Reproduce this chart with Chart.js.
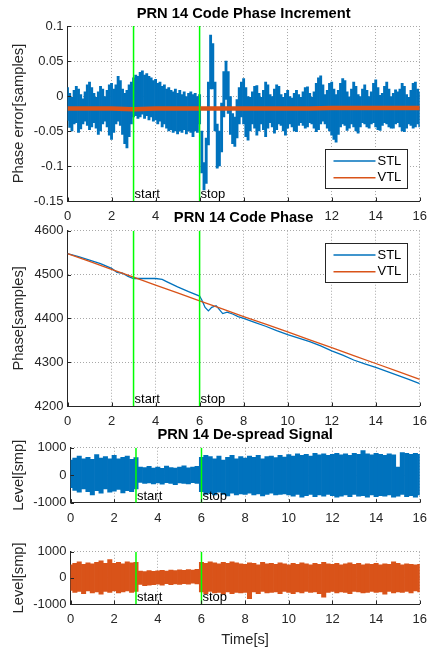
<!DOCTYPE html>
<html lang="en">
<head>
<meta charset="UTF-8">
<title>PRN 14 Code Phase</title>
<script src="https://cdn.jsdelivr.net/npm/chart.js"></script>
<style>
  body { margin: 0; background: #fff; }
  #wrap { position: relative; width: 435px; height: 651px; }
  #wrap canvas { position: absolute; left: 0; }
</style>
</head>
<body>
<div id="wrap">
  <canvas id="incChart" width="435" height="224" style="top:0px"></canvas>
  <canvas id="phaseChart" width="435" height="226" style="top:205px"></canvas>
  <canvas id="stlSigChart" width="435" height="108" style="top:420px"></canvas>
  <canvas id="vtlSigChart" width="435" height="111" style="top:540px"></canvas>
</div>
<script>
// ---- data ----
const markerTimes = [3, 6];
const markerNames = ['start', 'stop'];

// code phase increment, STL min/max per 0.1 s bin (samples)
const incStep = 0.1;
const stlIncHi = [
  0.012, 0.004, -0.002, 0.008, 0.014, 0.010, 0.002, -0.004, 0.006, 0.016,
  0.020, 0.012, 0.004, -0.002, 0.006, 0.014, 0.010, 0.000, 0.008, 0.016,
  0.018, 0.010, 0.016, 0.028, 0.022, 0.010, 0.004, 0.008, 0.016, 0.020,
  0.026, 0.030, 0.028, 0.034, 0.036, 0.030, 0.032, 0.028, 0.026, 0.022,
  0.024, 0.018, 0.020, 0.014, 0.016, 0.010, 0.012, 0.008, 0.006, 0.010,
  0.004, 0.008, 0.002, 0.006, 0.000, 0.004, 0.006, 0.002, 0.004, 0.000,
  0.002, -0.050, -0.095, -0.060, 0.020, 0.087, 0.075, 0.020, -0.040, -0.050,
  -0.010, 0.035, 0.050, 0.035, 0.000, -0.025, -0.030, -0.005, 0.012, 0.020,
  0.025, 0.012, 0.000, -0.002, 0.006, 0.014, 0.015, 0.004, -0.002, 0.008,
  0.020, 0.016, 0.002, 0.000, 0.010, 0.016, 0.014, 0.002, -0.002, 0.004,
  0.008, 0.000, -0.003, 0.004, 0.008, 0.002, -0.002, 0.006, 0.012, 0.013,
  0.004, -0.002, 0.006, 0.018, 0.026, 0.029, 0.016, 0.002, 0.008, 0.018,
  0.020, 0.010, 0.002, 0.008, 0.018, 0.025, 0.022, 0.006, -0.001, 0.010,
  0.020, 0.014, 0.002, 0.000, 0.010, 0.016, 0.008, 0.000, 0.006, 0.018,
  0.023, 0.012, 0.001, 0.004, 0.014, 0.020, 0.010, 0.000, 0.004, 0.009,
  0.006, 0.010, 0.018, 0.014, 0.002, -0.002, 0.008, 0.018, 0.020, 0.010,
  0.006
];
const stlIncLo = [
  -0.035, -0.045, -0.050, -0.040, -0.038, -0.052, -0.047, -0.040, -0.036, -0.042,
  -0.048, -0.044, -0.038, -0.046, -0.055, -0.050, -0.040, -0.036, -0.044, -0.056,
  -0.062, -0.052, -0.040, -0.036, -0.042, -0.055, -0.068, -0.074, -0.058, -0.040,
  -0.030, -0.028, -0.032, -0.030, -0.026, -0.032, -0.028, -0.034, -0.030, -0.036,
  -0.034, -0.040, -0.036, -0.044, -0.040, -0.046, -0.050, -0.048, -0.052, -0.050,
  -0.054, -0.050, -0.052, -0.048, -0.054, -0.050, -0.052, -0.058, -0.050, -0.052,
  -0.040, -0.110, -0.134, -0.125, -0.070, 0.010, 0.010, -0.050, -0.103, -0.100,
  -0.080, -0.030, -0.005, -0.025, -0.055, -0.068, -0.072, -0.060, -0.040, -0.030,
  -0.040, -0.058, -0.063, -0.050, -0.040, -0.046, -0.056, -0.050, -0.040, -0.048,
  -0.058, -0.046, -0.038, -0.044, -0.053, -0.048, -0.040, -0.042, -0.050, -0.056,
  -0.046, -0.040, -0.044, -0.050, -0.051, -0.042, -0.038, -0.042, -0.046, -0.044,
  -0.038, -0.040, -0.046, -0.051, -0.048, -0.040, -0.036, -0.040, -0.046, -0.050,
  -0.056, -0.062, -0.066, -0.055, -0.044, -0.040, -0.042, -0.049, -0.046, -0.040,
  -0.044, -0.050, -0.053, -0.044, -0.038, -0.040, -0.044, -0.046, -0.040, -0.038,
  -0.044, -0.048, -0.049, -0.042, -0.038, -0.040, -0.044, -0.046, -0.046, -0.040,
  -0.038, -0.044, -0.050, -0.051, -0.046, -0.040, -0.042, -0.046, -0.044, -0.040,
  -0.044
];
// VTL increment, one value per second
const seconds = [0, 1, 2, 3, 4, 5, 6, 7, 8, 9, 10, 11, 12, 13, 14, 15, 16];
const vtlInc = [-0.018, -0.018, -0.018, -0.019, -0.018, -0.018, -0.018, -0.018, -0.018,
  -0.018, -0.018, -0.018, -0.017, -0.017, -0.017, -0.017, -0.017];

// code phase (samples)
const phaseTimes = [0, 0.5, 1, 1.5, 2, 2.25, 2.5, 2.75, 3, 3.5, 4, 4.3, 4.5, 5, 5.5, 6,
  6.1, 6.25, 6.4, 6.55, 6.75, 6.9, 7.05, 7.25, 7.5, 7.75, 8, 8.5, 9, 9.5, 10, 10.5,
  11, 11.5, 12, 12.5, 13, 13.5, 14, 14.5, 15, 15.5, 16];
const stlPhase = [4548, 4541, 4533, 4525, 4514, 4505, 4503, 4496, 4491, 4491, 4491, 4489,
  4484, 4472, 4461, 4451, 4442, 4425, 4417, 4425, 4429, 4420, 4411, 4414, 4410, 4404,
  4400, 4391, 4382, 4372, 4363, 4355, 4347, 4337, 4326, 4316, 4305, 4296, 4288, 4279,
  4270, 4261, 4251];
const vtlPhase = [4548, 4530, 4512, 4494, 4476, 4458, 4440, 4422, 4404, 4387, 4369, 4351,
  4333, 4315, 4297, 4279, 4261];

// de-spread signal, min/max per 0.2 s bin (smp)
const sigStep = 0.2;
const stlSigHi = [
  550, 620, 700, 600, 650, 580, 750, 620, 680, 600,
  720, 600, 650, 700, 580, 640, 300, 280, 320, 260,
  300, 250, 330, 280, 260, 300, 340, 270, 300, 320,
  650, 720, 680, 600, 700, 550, 650, 720, 600, 680,
  620, 700, 650, 720, 600, 680, 700, 640, 720, 660,
  750, 700, 780, 720, 760, 700, 800, 740, 780, 720,
  760, 800, 740, 780, 720, 800, 760, 900, 780, 740,
  800, 760, 720, 780, 740, 300, 820, 800, 760, 800,
  760
];
const stlSigLo = [
  -450, -550, -620, -500, -600, -720, -560, -650, -500, -620,
  -580, -520, -640, -560, -600, -500, -260, -300, -280, -320,
  -280, -330, -270, -300, -340, -280, -300, -320, -270, -300,
  -600, -700, -650, -720, -620, -700, -750, -650, -720, -680,
  -700, -650, -720, -680, -750, -700, -650, -720, -700, -680,
  -720, -760, -700, -800, -740, -700, -780, -720, -760, -700,
  -740, -800, -760, -720, -780, -700, -760, -740, -800, -720,
  -780, -740, -760, -720, -800, -760, -700, -780, -740, -800,
  -720
];
const vtlSigHi = [
  500, 560, 620, 520, 580, 540, 600, 650, 560, 700,
  560, 600, 540, 620, 580, 600, 260, 240, 280, 250,
  270, 290, 260, 300, 280, 310, 290, 320, 300, 330,
  600, 560, 620, 580, 540, 600, 560, 620, 580, 540,
  520, 580, 560, 500, 600, 540, 560, 520, 580, 540,
  500, 560, 520, 580, 540, 500, 560, 520, 600, 540,
  520, 560, 500, 540, 580, 520, 560, 500, 540, 520,
  560, 500, 540, 520, 620, 560, 500, 540, 520, 500,
  520
];
const vtlSigLo = [
  -480, -560, -520, -600, -500, -580, -540, -620, -520, -560,
  -500, -580, -540, -500, -560, -520, -250, -300, -280, -260,
  -240, -280, -220, -260, -230, -250, -220, -240, -200, -230,
  -540, -600, -520, -580, -560, -620, -540, -600, -560, -580,
  -560, -800, -540, -600, -520, -580, -560, -540, -600, -520,
  -560, -600, -540, -580, -520, -560, -540, -600, -740, -560,
  -520, -580, -540, -560, -600, -520, -540, -580, -560, -520,
  -560, -540, -620, -520, -580, -540, -560, -520, -580, -500,
  -540
];

// ---- styling ----
const BLUE = '#0072BD';
const ORANGE = '#D95319';
const GREEN = '#00FF00';
const AXIS = '#262626';
const GRID = '#a8a8a8';
const FONT = '"Liberation Sans", Arial, sans-serif';
Chart.defaults.font.family = FONT;
Chart.defaults.color = AXIS;

function band(hi, lo, step) {
  return hi.map((h, i) => ({ x: +(i * step).toFixed(2), y: [lo[i], h] }));
}
function pairs(xs, ys) {
  return xs.map((x, i) => ({ x: x, y: ys[i] }));
}
function markerSets(yMin, yMax) {
  return markerTimes.map(t => ({
    type: 'line', data: [{ x: t, y: yMin }, { x: t, y: yMax }],
    borderColor: GREEN, borderWidth: 1.5, pointRadius: 0, order: 0
  }));
}

// start / stop text at the foot of each marker
const markerText = {
  id: 'markerText',
  afterDatasetsDraw(chart) {
    const { ctx, chartArea, scales } = chart;
    ctx.save();
    ctx.font = '13px ' + FONT;
    ctx.fillStyle = '#000';
    ctx.textBaseline = 'alphabetic';
    markerTimes.forEach((t, i) => {
      ctx.fillText(markerNames[i], scales.x.getPixelForValue(t) + 1, chartArea.bottom - 3);
    });
    ctx.restore();
  }
};

// matlab draws its tick marks inside the axes
const innerTicks = {
  id: 'innerTicks',
  afterDraw(chart) {
    const { ctx, chartArea: a, scales: { x, y } } = chart;
    ctx.save();
    ctx.strokeStyle = AXIS;
    ctx.lineWidth = 1;
    ctx.beginPath();
    x.ticks.forEach(t => {
      const px = Math.round(x.getPixelForValue(t.value)) + 0.5;
      ctx.moveTo(px, a.bottom);
      ctx.lineTo(px, a.bottom - 3.5);
    });
    y.ticks.forEach(t => {
      const py = Math.round(y.getPixelForValue(t.value)) + 0.5;
      ctx.moveTo(a.left, py);
      ctx.lineTo(a.left + 3.5, py);
    });
    ctx.stroke();
    ctx.restore();
  }
};

// white patch behind a title so it hides the tick labels of the plot above
const titlePatch = {
  id: 'titlePatch',
  beforeDraw(chart, args, opts) {
    if (!opts.on || !chart.titleBlock) return;
    const tb = chart.titleBlock;
    const { ctx } = chart;
    ctx.save();
    ctx.font = 'bold 14.7px ' + FONT;
    const tw = ctx.measureText(chart.options.plugins.title.text).width;
    const cx = tb.left + tb.width / 2;
    ctx.fillStyle = '#fff';
    ctx.fillRect(cx - tw / 2 - 3, tb.top, tw + 6, tb.height - 2);
    ctx.restore();
  }
};

// boxed legend inside the plot, like matlab's
const boxLegend = {
  id: 'boxLegend',
  afterDraw(chart, args, opts) {
    if (!opts.corner) return;
    const items = chart.data.datasets.filter(d => d.label);
    const { ctx, chartArea: a } = chart;
    const w = 82, h = 39;
    const x0 = Math.round(a.right - 13 - w);
    const y0 = Math.round(opts.corner === 'bottom' ? a.bottom - 13 - h : a.top + 12.5);
    ctx.save();
    ctx.fillStyle = '#fff';
    ctx.fillRect(x0, y0, w, h);
    ctx.strokeStyle = AXIS;
    ctx.lineWidth = 1;
    ctx.strokeRect(x0 + 0.5, y0 + 0.5, w, h);
    ctx.font = '13px ' + FONT;
    ctx.textBaseline = 'middle';
    items.forEach((d, i) => {
      const y = y0 + 12 + i * 16.7;
      ctx.strokeStyle = d.borderColor;
      ctx.lineWidth = 1.5;
      ctx.beginPath();
      ctx.moveTo(x0 + 8.5, y);
      ctx.lineTo(x0 + 50.5, y);
      ctx.stroke();
      ctx.fillStyle = '#000';
      ctx.fillText(d.label, x0 + 52.5, y);
    });
    ctx.restore();
  }
};
Chart.register(markerText, innerTicks, boxLegend, titlePatch);

function timeAxis(height, withTitle) {
  return {
    type: 'linear', min: 0, max: 16, offset: false,
    ticks: { stepSize: 2, padding: 8, maxRotation: 0, autoSkip: false, font: { size: 13 }, color: AXIS },
    grid: { color: GRID, drawTicks: false, offset: false },
    border: { color: AXIS, dash: [1, 2] },
    title: withTitle
      ? { display: true, text: 'Time[s]', font: { size: 14.7 }, color: AXIS, padding: { top: 0, bottom: 2 } }
      : { display: false },
    afterFit: s => { s.height = height; }
  };
}
function valueAxis(min, max, step, label, width) {
  return {
    type: 'linear', min: min, max: max,
    ticks: { stepSize: step, padding: 4, font: { size: 13 }, color: AXIS, callback: v => String(+v.toFixed(3)) },
    grid: { color: GRID, drawTicks: false },
    border: { color: AXIS, dash: [1, 2] },
    title: { display: true, text: label, font: { size: 14.7 }, color: AXIS, padding: { top: 10.5, bottom: 0 } },
    afterFit: s => { s.width = width; }
  };
}

function makeChart(id, datasets, o) {
  return new Chart(document.getElementById(id), {
    type: 'bar',
    data: { datasets: datasets },
    options: {
      responsive: false,
      animation: false,
      events: [],
      layout: { padding: { left: 0, right: 11, top: o.padTop || 0, bottom: 0 } },
      scales: {
        x: timeAxis(o.xHeight, o.timeTitle),
        y: valueAxis(o.yMin, o.yMax, o.yStep, o.yLabel, o.yWidth)
      },
      plugins: {
        legend: { display: false },
        tooltip: { enabled: false },
        title: o.title
          ? { display: true, text: o.title, fullSize: false, color: '#000',
              font: { size: 14.7, weight: 'bold' }, padding: { top: o.titleTop, bottom: o.titleBottom } }
          : { display: false },
        boxLegend: { corner: o.legend || null },
        titlePatch: { on: !!o.patch }
      }
    }
  });
}

const barStyle = { barPercentage: 1, categoryPercentage: 1, borderWidth: 0 };

makeChart('incChart', [
  Object.assign({ type: 'bar', label: 'STL', data: band(stlIncHi, stlIncLo, incStep),
    backgroundColor: BLUE, borderColor: BLUE, order: 3 }, barStyle),
  { type: 'line', label: 'VTL', data: pairs(seconds, vtlInc), borderColor: ORANGE,
    borderWidth: 4.5, pointRadius: 0, order: 2 },
  ...markerSets(-0.15, 0.1)
], { title: 'PRN 14 Code Phase Increment', titleTop: 5.5, titleBottom: 2.9,
     yMin: -0.15, yMax: 0.1, yStep: 0.05, yLabel: 'Phase error[samples]', yWidth: 67.5,
     xHeight: 23, legend: 'bottom' });

makeChart('phaseChart', [
  { type: 'line', label: 'STL', data: pairs(phaseTimes, stlPhase), borderColor: BLUE,
    borderWidth: 1.3, pointRadius: 0, order: 3 },
  { type: 'line', label: 'VTL', data: pairs(seconds, vtlPhase), borderColor: ORANGE,
    borderWidth: 1.3, pointRadius: 0, order: 2 },
  ...markerSets(4200, 4600)
], { title: 'PRN 14 Code Phase', titleTop: 3.7, titleBottom: 4.4, patch: true,
     yMin: 4200, yMax: 4600, yStep: 100, yLabel: 'Phase[samples]', yWidth: 67.5,
     xHeight: 25, legend: 'top' });

makeChart('stlSigChart', [
  Object.assign({ type: 'bar', label: '', data: band(stlSigHi, stlSigLo, sigStep),
    backgroundColor: BLUE, borderColor: BLUE, order: 3 }, barStyle),
  ...markerSets(-1000, 1000)
], { title: 'PRN 14 De-spread Signal', titleTop: 6.2, titleBottom: 3.9,
     yMin: -1000, yMax: 1000, yStep: 1000, yLabel: 'Level[smp]', yWidth: 70.5,
     xHeight: 25.3 });

makeChart('vtlSigChart', [
  Object.assign({ type: 'bar', label: '', data: band(vtlSigHi, vtlSigLo, sigStep),
    backgroundColor: ORANGE, borderColor: ORANGE, order: 3 }, barStyle),
  ...markerSets(-1000, 1000)
], { padTop: 10, yMin: -1000, yMax: 1000, yStep: 1000, yLabel: 'Level[smp]', yWidth: 70.5,
     xHeight: 47, timeTitle: true });
</script>
</body>
</html>
